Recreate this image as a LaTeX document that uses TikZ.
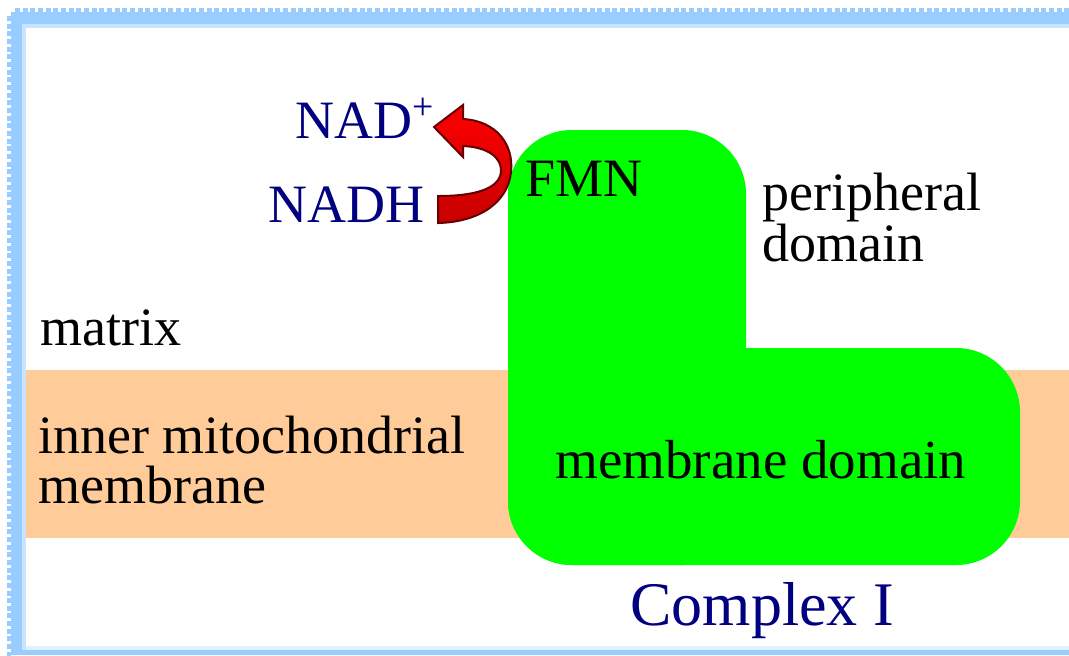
\documentclass[tikz,border=0pt]{standalone}
\usepackage{fontspec}
\setmainfont{Liberation Serif}
\definecolor{frameblue}{HTML}{99CCFF}
\definecolor{framelight}{HTML}{C8E4FF}
\definecolor{framepale}{HTML}{E2F1FF}
\definecolor{peach}{HTML}{FFCC99}
\definecolor{limegreen}{HTML}{00FF00}
\definecolor{navytext}{HTML}{000080}
\tikzset{
  lbl/.style={font=\fontsize{27}{25.5}\selectfont, inner sep=0pt, align=left, anchor=base west},
  navylbl/.style={lbl, text=navytext},
}
\begin{document}
\begin{tikzpicture}[x=0.5pt,y=-0.5pt]
	\useasboundingbox (0,0) rectangle (1069,655);
	\fill[white] (0,0) rectangle (1069,655);
	% frame
	\fill[frameblue] (11,12) rectangle (1069,24);
	\fill[frameblue] (11,12) rectangle (22,655);
	\fill[frameblue] (11,650) rectangle (1069,655);
	\fill[framelight] (22,24) rectangle (1069,28);
	\fill[framelight] (22,24) rectangle (26,650);
	\fill[framepale] (26,646) rectangle (1069,650);
	\foreach \i in {0,...,138}
		\fill[frameblue] (15+\i*7.66,8) rectangle ++(5,4);
	\foreach \i in {0,...,83}
		\fill[frameblue] (7,16+\i*7.66) rectangle ++(4,5);
	% membrane
	\fill[peach] (26,370) rectangle (1069,538);
	% complex I
	\fill[limegreen,rounded corners=32] (508,130) rectangle (746,565);
	\fill[limegreen,rounded corners=32] (508,348) rectangle (1020,565);
	% arrow NADH -> NAD+
	\filldraw[draw=black!60!red,line width=1pt,top color=red,bottom color=red!78!black]
		(438,196) .. controls (472,196) and (499,190) .. (501,172)
		.. controls (502,157) and (487,147) .. (463,146)
		-- (463,157) -- (434,127) -- (463,105) -- (463,119)
		.. controls (497,121) and (514,145) .. (511,172)
		.. controls (508,202) and (480,222) .. (438,223) -- cycle;
	% labels
	\node[navylbl] (nadp) at (295,138) {NAD\textsuperscript{+}};
	\node[navylbl] (nadh) at (268,222) {NADH};
	\node[lbl] (fmn) at (525,196) {FMN};
	\node[lbl] (perip) at (762,261) {peripheral\\domain};
	\node[lbl] (matrix) at (40,345) {matrix};
	\node[lbl,font=\fontsize{27}{25}\selectfont] (imm) at (38,503) {inner mitochondrial\\membrane};
	\node[lbl,font=\fontsize{27.5}{27.5}\selectfont] (memdom) at (555,478) {membrane domain};
	\node[navylbl,font=\fontsize{31}{31}\selectfont] (cplx) at (630,625) {Complex I};
\end{tikzpicture}
\end{document}
